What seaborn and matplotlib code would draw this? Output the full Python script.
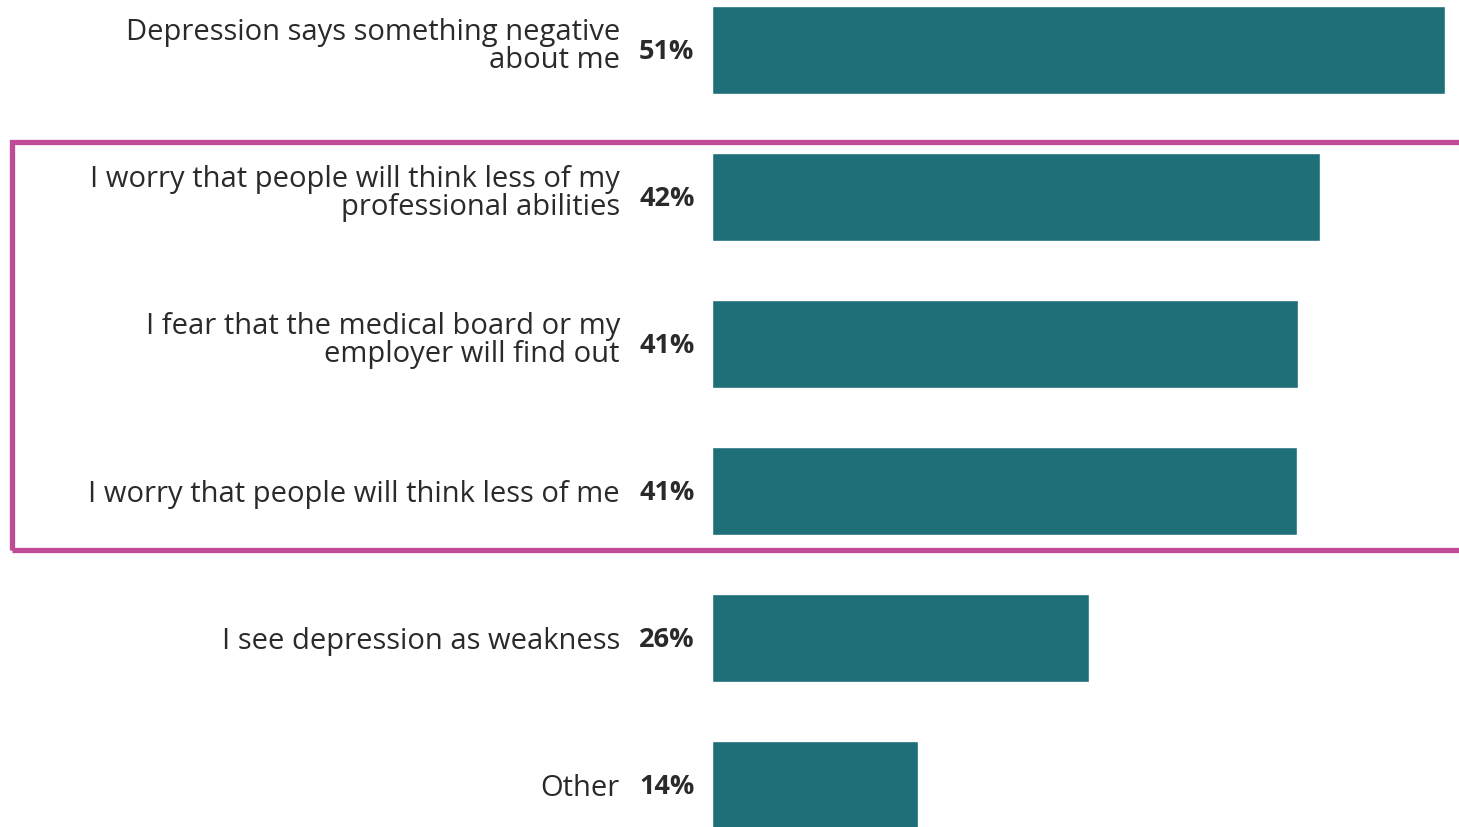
import matplotlib
matplotlib.use("Agg")
import matplotlib.pyplot as plt
import seaborn as sns
import pandas as pd
from matplotlib.patches import Rectangle

categories = [
    "Depression says something negative\nabout me",
    "I worry that people will think less of my\nprofessional abilities",
    "I fear that the medical board or my\nemployer will find out",
    "I worry that people will think less of me",
    "I see depression as weakness",
    "Other",
]
values = [51.0, 42.3, 40.8, 40.7, 26.2, 14.3]
value_labels = ["51%", "42%", "41%", "41%", "26%", "14%"]

BAR = "#1f6f79"
TEXT = "#2a2a2a"
PINK = "#bf4a96"

sns.set_theme(style="white")
plt.rcParams["font.family"] = ["Open Sans", "DejaVu Sans"]

df = pd.DataFrame({"cat": categories, "val": values})

W, H = 1459, 828
fig = plt.figure(figsize=(W / 100, H / 100), dpi=100)
ax = fig.add_axes([0, 0, 1, 1])

sns.barplot(data=df, y="cat", x="val", orient="h", color=BAR, saturation=1,
            width=0.6, ax=ax)

pxper = (1445 - 712) / 51.0
x0 = 712
ax.set_xlim(-x0 / pxper, (W - x0) / pxper)
pitch = 147
ax.set_ylim((H - 51) / pitch, -51 / pitch)
ax.axis("off")

lab_x = (620 - x0) / pxper
pct_x = (639 - x0) / pxper
for i, (c, lbl) in enumerate(zip(categories, value_labels)):
    off = -0.03 if "\n" in c else 0.02
    ax.text(lab_x, i + off, c, ha="right", va="center", fontsize=21, color=TEXT,
            linespacing=0.98)
    ax.text(pct_x, i + 0.01, lbl, ha="left", va="center", fontsize=19.5,
            fontweight="bold", color=TEXT)

rect = Rectangle((12 / W, 1 - 551 / H), (W + 20 - 12) / W, (551 - 143) / H,
                 transform=fig.transFigure, fill=False, edgecolor=PINK,
                 linewidth=3.8, clip_on=False)
fig.patches.append(rect)

fig.savefig("out.png", dpi=100)
